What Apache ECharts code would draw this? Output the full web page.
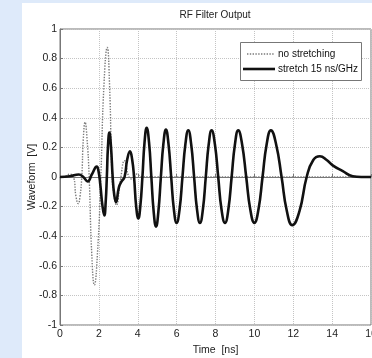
<!DOCTYPE html>
<html>
<head>
<meta charset="utf-8">
<script src="https://cdn.jsdelivr.net/npm/echarts@6/dist/echarts.min.js"></script>
<style>
  html, body { margin: 0; padding: 0; background: #deeafa; }
  #panel { position: absolute; left: 22px; top: 3px; width: 350px; height: 355px; background: #ffffff; }
  #chart { position: absolute; left: 0; top: 0; width: 372px; height: 358px; }
</style>
</head>
<body>
<div id="panel"></div>
<div id="chart"></div>
<script>
// Data
var seriesNames = ['no stretching', 'stretch 15 ns/GHz'];

var noStretchTime = [0, 0.3, 0.5, 0.7, 0.82, 0.94, 1.03, 1.12, 1.2, 1.29, 1.39, 1.5, 1.63, 1.77, 1.93, 2.1, 2.26, 2.43, 2.55, 2.68, 2.79, 2.9, 3.1, 3.32, 3.55, 3.75, 3.95, 4.2, 5, 8, 12, 16];
var noStretchVal  = [0, 0.005, 0.02, 0.0, -0.13, -0.18, -0.13, 0.0, 0.26, 0.37, 0.26, 0.0, -0.51, -0.73, -0.51, 0.0, 0.62, 0.876, 0.62, 0.0, -0.13, -0.19, -0.03, 0.11, 0.0, -0.015, 0.02, 0, 0, 0, 0, 0];

var stretchTime = [0, 0.5, 0.97, 1.2, 1.42, 1.65, 1.89, 1.98, 2.08, 2.18, 2.28, 2.35, 2.41, 2.47, 2.54, 2.62, 2.71, 2.79, 2.88, 3.03, 3.17, 3.32, 3.46, 3.6, 3.71, 3.81, 3.92, 4.03, 4.13, 4.24, 4.35, 4.46, 4.58, 4.7, 4.82, 4.94, 5.06, 5.19, 5.32, 5.45, 5.58, 5.72, 5.86, 6.0, 6.15, 6.3, 6.45, 6.6, 6.75, 6.9, 7.05, 7.2, 7.35, 7.5, 7.65, 7.8, 7.97, 8.14, 8.31, 8.49, 8.66, 8.83, 9.0, 9.17, 9.37, 9.58, 9.79, 10.0, 10.21, 10.42, 10.63, 10.85, 11.12, 11.4, 11.67, 11.95, 12.32, 12.69, 13.03, 13.37, 13.72, 14.03, 14.55, 15.06, 15.5, 16];
var stretchVal  = [0, 0.005, 0.017, 0, -0.03, 0.02, 0.07, 0.04, -0.06, -0.19, -0.26, -0.17, 0.0, 0.21, 0.30, 0.21, 0.0, -0.12, -0.17, -0.07, -0.03, 0.0, 0.12, 0.173, 0.12, 0.0, -0.2, -0.28, -0.2, 0.0, 0.235, 0.333, 0.235, 0.0, -0.235, -0.335, -0.235, 0.0, 0.225, 0.32, 0.225, 0.0, -0.22, -0.31, -0.22, 0.0, 0.22, 0.315, 0.22, 0.0, -0.22, -0.31, -0.22, 0.0, 0.22, 0.315, 0.22, 0.0, -0.22, -0.31, -0.22, 0.0, 0.22, 0.315, 0.22, 0.0, -0.22, -0.31, -0.22, 0.0, 0.22, 0.315, 0.22, 0.0, -0.23, -0.325, -0.23, 0.0, 0.115, 0.14, 0.115, 0.079, 0.04, 0.005, 0, 0];

function pairs(t, v) { return t.map(function (x, i) { return [x, v[i]]; }); }

var chart = echarts.init(document.getElementById('chart'), null, { renderer: 'canvas' });
var font = 'Liberation Sans, Arial, sans-serif';
var dottedColor = '#7a7a7a', solidColor = '#111111';
chart.setOption({
  backgroundColor: 'transparent',
  animation: false,
  title: {
    text: 'RF Filter Output',
    left: 215, top: 10, padding: 0,
    textAlign: 'center',
    textStyle: { fontFamily: font, fontSize: 10, fontWeight: 'normal', color: '#222' }
  },
  grid: {
    left: 60, right: 1, top: 29, bottom: 33,
    outerBoundsMode: 'none', containLabel: false,
    show: true, borderColor: '#777', borderWidth: 1, backgroundColor: '#ffffff'
  },
  xAxis: {
    type: 'value', min: 0, max: 16, interval: 2,
    name: 'Time  [ns]', nameLocation: 'middle', nameGap: 20, nameMoveOverlap: false,
    nameTextStyle: { fontFamily: font, fontSize: 10.5, color: '#222' },
    axisLine: { show: true, lineStyle: { color: '#777' } },
    axisTick: { show: true, inside: true, length: 3, lineStyle: { color: '#777' } },
    axisLabel: { fontFamily: font, fontSize: 10.5, color: '#222', margin: 4 },
    splitLine: { show: true, lineStyle: { color: '#c4c4c4', type: 'dotted', width: 1 } }
  },
  yAxis: {
    type: 'value', min: -1, max: 1, interval: 0.2,
    name: 'Waveform  [V]', nameLocation: 'middle', nameGap: 22, nameRotate: 90, nameMoveOverlap: false,
    nameTextStyle: { fontFamily: font, fontSize: 10.5, color: '#222' },
    axisLine: { show: true, lineStyle: { color: '#777' } },
    axisTick: { show: true, inside: true, length: 3, lineStyle: { color: '#777' } },
    axisLabel: {
      fontFamily: font, fontSize: 10.5, color: '#222', margin: 3,
      formatter: function (v) { return String(Math.round(v * 10) / 10); }
    },
    splitLine: { show: true, lineStyle: { color: '#c4c4c4', type: 'dotted', width: 1 } }
  },
  graphic: {
    elements: [
      { type: 'rect', z: 100, shape: { x: 240.5, y: 42.5, width: 121, height: 38 },
        style: { fill: '#ffffff', stroke: '#777', lineWidth: 1 } },
      { type: 'line', z: 101, shape: { x1: 247, y1: 54, x2: 275, y2: 54 },
        style: { stroke: dottedColor, lineWidth: 1.4, lineDash: [1.4, 1.4] } },
      { type: 'text', z: 101, x: 278, y: 54,
        style: { text: seriesNames[0], fontFamily: font, fontSize: 10, fill: '#111', verticalAlign: 'middle' } },
      { type: 'line', z: 101, shape: { x1: 243, y1: 69, x2: 275, y2: 69 },
        style: { stroke: solidColor, lineWidth: 2.6 } },
      { type: 'text', z: 101, x: 278, y: 69,
        style: { text: seriesNames[1], fontFamily: font, fontSize: 10, fill: '#111', verticalAlign: 'middle' } }
    ]
  },
  series: [
    {
      name: seriesNames[0], type: 'line', data: pairs(noStretchTime, noStretchVal),
      smooth: 0.5, symbol: 'none', showSymbol: false, z: 3,
      lineStyle: { color: dottedColor, width: 1.4, type: 'dotted' }
    },
    {
      name: seriesNames[1], type: 'line', data: pairs(stretchTime, stretchVal),
      smooth: 0.5, symbol: 'none', showSymbol: false, z: 4,
      lineStyle: { color: solidColor, width: 2.6 }
    }
  ]
});
</script>
</body>
</html>
